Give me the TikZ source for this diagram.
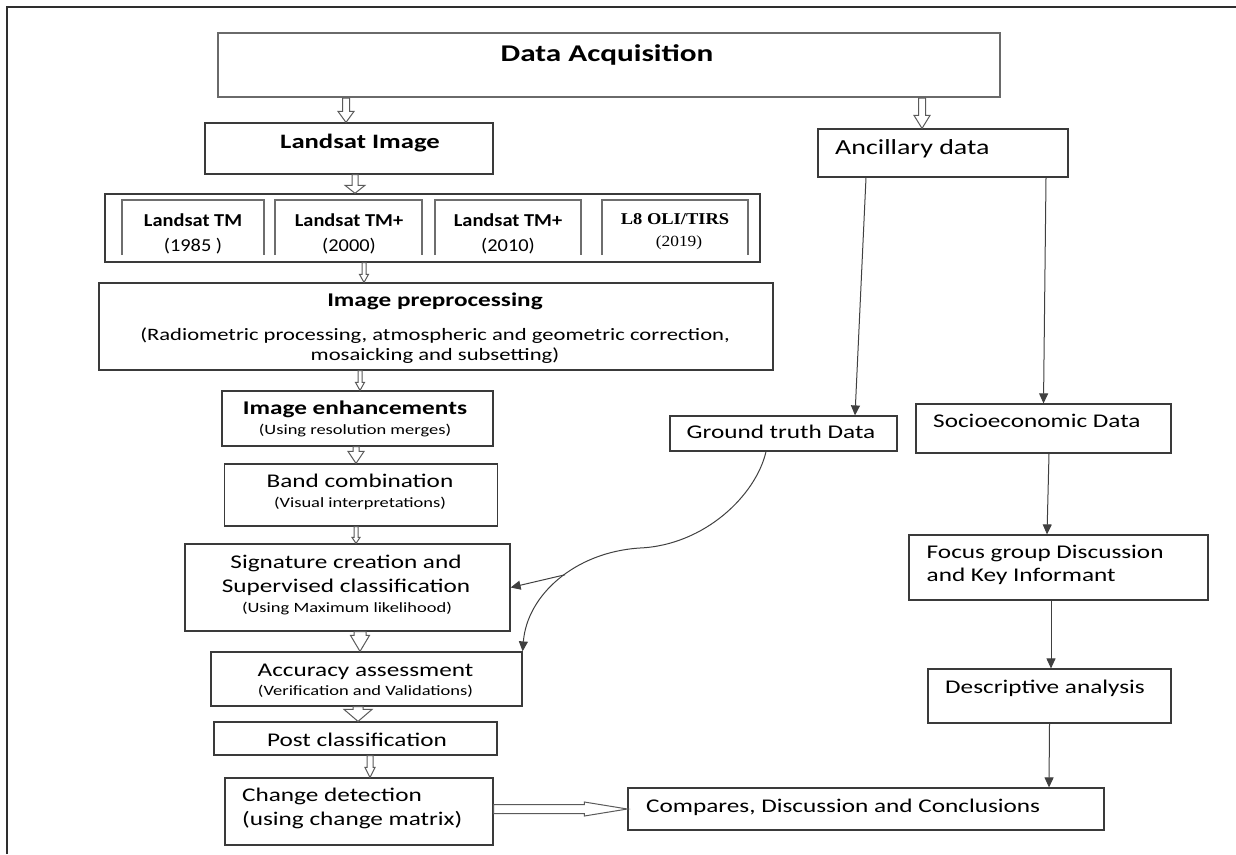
\documentclass[tikz,border=0pt]{standalone}
\usepackage{fontspec}
\setmainfont{Carlito}[FakeStretch=1.3]
\newfontfamily\narrowf{Carlito}[FakeStretch=1.12]
\newfontfamily\timesf{Liberation Serif}[FakeStretch=1.12]
\usetikzlibrary{calc,arrows.meta}
\definecolor{boxline}{HTML}{3A3A3A}
\definecolor{daline}{HTML}{6A6A6A}
\definecolor{arrclr}{HTML}{5A5A5A}
\definecolor{lineclr}{HTML}{404040}
\definecolor{framec}{HTML}{2E2E2E}
\definecolor{innerc}{HTML}{6E6E6E}
\tikzset{
  box/.style={draw=boxline, line width=1.2pt, inner sep=0pt, rectangle},
  hidbox/.style={inner sep=0pt, rectangle},
  txt/.style={inner sep=0pt, anchor=base, font=\fontsize{19.4}{23}\selectfont},
  ltxt/.style={inner sep=0pt, anchor=base west, font=\fontsize{19.4}{23}\selectfont},
  btxt/.style={inner sep=0pt, anchor=base, font=\fontsize{19.4}{23}\selectfont\bfseries},
  stxt/.style={inner sep=0pt, anchor=base, font=\fontsize{14.2}{17}\selectfont},
  ptxt/.style={inner sep=0pt, anchor=base, font=\fontsize{17.4}{20}\selectfont},
  ntxt/.style={inner sep=0pt, anchor=base, font=\narrowf\fontsize{18.2}{22}\selectfont},
  nbtxt/.style={inner sep=0pt, anchor=base, font=\narrowf\fontsize{18.2}{22}\selectfont\bfseries},
  arr/.style={draw=lineclr, line width=1pt, -{Triangle[length=10pt,width=9pt]}},
  blk/.style n args={3}{draw=arrclr, fill=white, line width=1pt, line join=miter,
    to path={let \p1=(\tikztostart), \p2=(\tikztotarget), \p3=($(\p2)!#3!(\p1)$) in
      ($(\p1)!#1!90:(\p2)$) -- ($(\p3)!#1!-90:(\p1)$) -- ($(\p3)!#2!-90:(\p1)$) -- (\p2)
      -- ($(\p3)!#2!90:(\p1)$) -- ($(\p3)!#1!90:(\p1)$) -- ($(\p1)!#1!-90:(\p2)$) -- cycle}},
  inner3/.style={draw=innerc, line width=1.8pt}
}
\begin{document}
\begin{tikzpicture}[x=1pt,y=-1pt]
\useasboundingbox (0,0) rectangle (1236,854);
% frame
\draw[framec, line width=1.5pt] (7,854) -- (7,7) -- (1236,7);

% boxes
\node[box, draw=daline, line width=2pt, minimum width=782pt, minimum height=64pt] (da) at (609,65) {};
\node[box, minimum width=288pt, minimum height=51pt] (li) at (349,148.5) {};
\node[box, line width=1.4pt, minimum width=655pt, minimum height=68pt] (cont) at (432.5,228) {};
\node[hidbox, minimum width=142pt, minimum height=55pt] (b1) at (193,227.5) {};
\node[hidbox, minimum width=147pt, minimum height=55pt] (b2) at (348.5,227.5) {};
\node[hidbox, minimum width=146pt, minimum height=55pt] (b3) at (508,227.5) {};
\node[hidbox, minimum width=146pt, minimum height=55pt] (b4) at (675,227.5) {};
\foreach \b in {b1,b2,b3,b4}{
  \draw[inner3] (\b.south west) -- (\b.north west) -- (\b.north east) -- (\b.south east);
}
\node[box, minimum width=674pt, minimum height=87pt] (ip) at (436,326.5) {};
\node[box, minimum width=271pt, minimum height=55pt] (ie) at (357.5,418.5) {};
\node[box, minimum width=273pt, minimum height=62pt] (bc) at (361,495) {};
\node[box, minimum width=325pt, minimum height=87pt] (sc) at (347.5,587.5) {};
\node[box, minimum width=311pt, minimum height=54pt] (aa) at (366.5,679) {};
\node[box, minimum width=283pt, minimum height=33pt] (pc) at (355.5,738.5) {};
\node[box, minimum width=268pt, minimum height=67pt] (cd) at (359,811.5) {};
\node[box, minimum width=476pt, minimum height=42pt] (co) at (866,809) {};
\node[box, minimum width=250pt, minimum height=48pt] (an) at (943,153) {};
\node[box, minimum width=227pt, minimum height=35pt] (gt) at (783.5,433.5) {};
\node[box, minimum width=255pt, minimum height=49pt] (so) at (1043.5,428.5) {};
\node[box, minimum width=299pt, minimum height=65pt] (fo) at (1058.5,567.5) {};
\node[box, minimum width=243pt, minimum height=54pt] (de) at (1049.5,696) {};

% texts
\node[inner sep=0pt, anchor=base, font=\fontsize{24}{28}\selectfont\bfseries] (daT) at (607,61) {Data Acquisition};
\node[inner sep=0pt, anchor=base, font=\fontsize{20.5}{24}\selectfont\bfseries] (liT) at (360,148) {Landsat Image};
\node[nbtxt] (b1a) at (193,226.5) {Landsat TM};
\node[ntxt] (b1b) at (193,251) {(1985 )};
\node[nbtxt] (b2a) at (349,226.5) {Landsat TM+};
\node[ntxt] (b2b) at (349,251) {(2000)};
\node[nbtxt] (b3a) at (508,226.5) {Landsat TM+};
\node[ntxt] (b3b) at (508,251) {(2010)};
\node[inner sep=0pt, anchor=base, font=\timesf\fontsize{16.5}{20}\selectfont\bfseries] (b4a) at (675,224) {L8 OLI/TIRS};
\node[inner sep=0pt, anchor=base, font=\timesf\fontsize{15.5}{18}\selectfont] (b4b) at (679,246) {(2019)};
\node[btxt] (ipA) at (435,306) {Image preprocessing};
\node[ptxt] (ipB) at (435,340) {(Radiometric processing, atmospheric and geometric correction,};
\node[ptxt] (ipC) at (435,360) {mosaicking and subsetting)};
\node[btxt] (ieA) at (355,414) {Image enhancements};
\node[stxt] (ieB) at (355,434.5) {(Using resolution merges)};
\node[txt] (bcA) at (360,487) {Band combination};
\node[stxt] (bcB) at (360,507.5) {(Visual interpretations)};
\node[txt] (scA) at (346,568.5) {Signature creation and};
\node[txt] (scB) at (346,592.5) {Supervised classification};
\node[stxt] (scC) at (347,612.5) {(Using Maximum likelihood)};
\node[txt] (aaA) at (365.5,676) {Accuracy assessment};
\node[stxt] (aaB) at (365.5,695.5) {(Verification and Validations)};
\node[txt] (pcT) at (357,746) {Post classification};
\node[ltxt] (cdA) at (242,801.5) {Change detection};
\node[ltxt] (cdB) at (242,825.5) {(using change matrix)};
\node[ltxt] (coT) at (646,812.5) {Compares, Discussion and Conclusions};
\node[inner sep=0pt, anchor=base west, font=\fontsize{21.5}{25}\selectfont] (anT) at (835,154) {Ancillary data};
\node[txt] (gtT) at (781,438.5) {Ground truth Data};
\node[ltxt] (soT) at (933,427.5) {Socioeconomic Data};
\node[ltxt] (foA) at (926.5,558.5) {Focus group Discussion};
\node[ltxt] (foB) at (926.5,581) {and Key Informant};
\node[ltxt] (deT) at (945,693.5) {Descriptive analysis};

% block arrows
\coordinate (ancin) at ([xshift=-21pt]an.north);
\coordinate (liin) at ([xshift=-3pt]li.north);
\draw[blk={3.5pt}{8pt}{11pt}] (liin |- da.south) to (liin);
\draw[blk={3.5pt}{8pt}{13pt}] (ancin |- da.south) to (ancin);
\draw[blk={3pt}{10pt}{8pt}] (355,0 |- li.south) to (355,0 |- cont.north);
\draw[blk={2pt}{4.5pt}{8pt}] (364,0 |- cont.south) to (364,0 |- ip.north);
\draw[blk={2pt}{4.5pt}{8pt}] (360,0 |- ip.south) to (360,0 |- ie.north);
\draw[blk={3pt}{8pt}{12pt}] (356,0 |- ie.south) to (356,0 |- bc.north);
\draw[blk={2pt}{4pt}{6pt}] (356,0 |- bc.south) to (356,0 |- sc.north);
\draw[blk={6pt}{9.5pt}{16pt}] (360,0 |- sc.south) to (360,0 |- aa.north);
\draw[blk={5pt}{14pt}{12pt}] (358,0 |- aa.south) to (358,0 |- pc.north);
\draw[blk={3pt}{5pt}{10pt}] (370,0 |- pc.south) to (370,0 |- cd.north);
\draw[blk={4.5pt}{7pt}{43pt}] (cd.east |- co.west) to (co.west);

% line connectors
\draw[arr] ([xshift=-77pt]an.south) -- ([xshift=71.5pt]gt.north);
\draw[arr] ([xshift=103pt]an.south) -- (so.north);
\draw[arr] ([xshift=5.5pt]so.south) -- ([xshift=-11.5pt]fo.north);
\draw[arr] ([xshift=-7.5pt]fo.south) -- ([xshift=1.5pt]de.north);
\draw[arr] (de.south) -- ([xshift=183pt]co.north);
\draw[arr] ([xshift=-17.5pt]gt.south) .. controls (756,495) and (705,545) .. (640,548)
  .. controls (575,552) and (527,595) .. (aa.north east) coordinate[pos=0.45] (br);
\draw[arr] (br) -- (sc.east);
\end{tikzpicture}
\end{document}
